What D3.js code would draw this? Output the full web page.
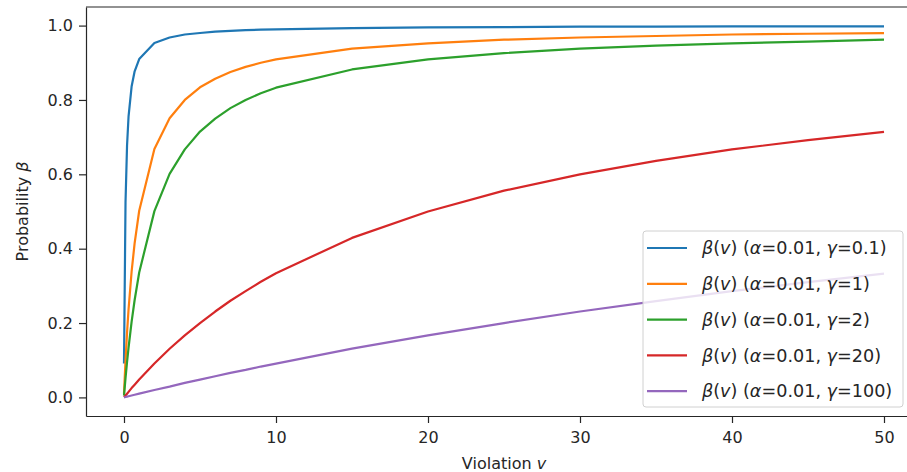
<!DOCTYPE html>
<meta charset="utf-8">
<style type="text/css">

body { margin: 0; background: #fff; }

svg text {
    font-family: "DejaVu Sans", sans-serif;
    font-size: 16px;
    fill: #262626;
}

.line {
    fill: none;
    stroke-width: 2.2;
    stroke-linejoin: round;
}

.axis path, .axis line {
    stroke: #262626;
    stroke-width: 1.2;
}

</style>
<body>
</body>

<script src="https://d3js.org/d3.v7.min.js"></script>
<script>

// violation values v
var violation = [0, 0.1, 0.2, 0.3, 0.5, 0.7, 1, 2, 3, 4, 5, 6, 7, 8, 9, 10, 15, 20, 25, 30, 35, 40, 45, 50];

// beta(v) for each gamma
var gamma01 = [0.091, 0.524, 0.677, 0.756, 0.836, 0.877, 0.910, 0.953, 0.968, 0.976, 0.980, 0.984, 0.986, 0.988, 0.989, 0.990, 0.993, 0.995, 0.996, 0.997, 0.997, 0.998, 0.998, 0.998];
var gamma1 = [0.010, 0.099, 0.174, 0.237, 0.338, 0.415, 0.502, 0.668, 0.751, 0.800, 0.834, 0.857, 0.875, 0.889, 0.900, 0.909, 0.938, 0.952, 0.962, 0.968, 0.972, 0.976, 0.978, 0.980];
var gamma2 = [0.005, 0.052, 0.095, 0.134, 0.203, 0.262, 0.336, 0.501, 0.601, 0.667, 0.715, 0.750, 0.778, 0.800, 0.818, 0.833, 0.882, 0.909, 0.926, 0.938, 0.946, 0.952, 0.957, 0.962];
var gamma20 = [0.0005, 0.005, 0.010, 0.015, 0.025, 0.034, 0.048, 0.091, 0.131, 0.167, 0.200, 0.231, 0.260, 0.286, 0.311, 0.334, 0.429, 0.500, 0.556, 0.600, 0.636, 0.667, 0.692, 0.714];
var gamma100 = [0.0001, 0.001, 0.002, 0.003, 0.005, 0.007, 0.010, 0.020, 0.029, 0.039, 0.048, 0.057, 0.066, 0.074, 0.083, 0.091, 0.131, 0.167, 0.200, 0.231, 0.259, 0.286, 0.310, 0.333];

var gammaLabels = ["0.1", "1", "2", "20", "100"];
var colors = ["#1f77b4", "#ff7f0e", "#2ca02c", "#d62728", "#9467bd"];

var xTicks = [0, 10, 20, 30, 40, 50];
var yTicks = [0.0, 0.2, 0.4, 0.6, 0.8, 1.0];

var series = [gamma01, gamma1, gamma2, gamma20, gamma100];

var W = 907, H = 472;
var mLeft = 86, mRight = 922, mTop = 7, mBottom = 416;

var xScale = d3.scaleLinear()
    .domain([-2.5, 52.5])
    .range([mLeft, mRight]);

var yScale = d3.scaleLinear()
    .domain([-0.05, 1.05])
    .range([mBottom, mTop]);

var line = d3.line()
    .x(function(d, i) { return xScale(violation[i]); })
    .y(function(d) { return yScale(d); });

var svg = d3.select("body").append("svg")
    .attr("width", W)
    .attr("height", H);

svg.append("defs").append("clipPath")
    .attr("id", "clip")
  .append("rect")
    .attr("x", mLeft).attr("y", mTop)
    .attr("width", mRight - mLeft).attr("height", mBottom - mTop);

var lines = svg.append("g").attr("clip-path", "url(#clip)");

lines.selectAll(".line")
    .data(series)
  .enter().append("path")
    .attr("class", "line")
    .attr("stroke", function(d, i) { return colors[i]; })
    .attr("d", line);

// axes
var xAxis = svg.append("g")
    .attr("class", "x axis")
    .attr("transform", "translate(0," + mBottom + ")")
    .call(d3.axisBottom(xScale).tickValues(xTicks).tickSize(7).tickPadding(6).tickSizeOuter(0));

var yAxis = svg.append("g")
    .attr("class", "y axis")
    .attr("transform", "translate(" + mLeft + ",0)")
    .call(d3.axisLeft(yScale).tickValues(yTicks).tickFormat(d3.format(".1f")).tickSize(7).tickPadding(6).tickSizeOuter(0));

svg.selectAll(".axis text").style("font-size", "16px").style("font-family", "DejaVu Sans");
xAxis.selectAll("text").attr("dy", "0.9em");

// top spine (right one falls outside the window)
svg.append("line")
    .attr("x1", mLeft).attr("x2", mRight)
    .attr("y1", mTop).attr("y2", mTop)
    .attr("stroke", "#262626").attr("stroke-width", 1.2);

// axis labels
var xl = svg.append("text")
    .attr("x", xScale(25))
    .attr("y", 469)
    .attr("text-anchor", "middle");
xl.append("tspan").text("Violation ");
xl.append("tspan").attr("font-style", "italic").text("v");

var yl = svg.append("text")
    .attr("transform", "translate(28," + ((mTop + mBottom) / 2) + ") rotate(-90)")
    .attr("text-anchor", "middle");
yl.append("tspan").text("Probability ");
yl.append("tspan").attr("font-style", "italic").text("β");

// legend
var legend = svg.append("g").attr("transform", "translate(643,231)");

legend.append("rect")
    .attr("width", 260)
    .attr("height", 176)
    .attr("rx", 3)
    .attr("fill", "#fff")
    .attr("fill-opacity", 0.8)
    .attr("stroke", "#d0d0d0")
    .attr("stroke-width", 1);

var items = legend.selectAll(".item")
    .data(gammaLabels)
  .enter().append("g")
    .attr("class", "item")
    .attr("transform", function(d, i) { return "translate(0," + (17 + i * 35.8) + ")"; });

items.append("line")
    .attr("x1", 4).attr("x2", 44)
    .attr("stroke", function(d, i) { return colors[i]; })
    .attr("stroke-width", 2.2);

var lt = items.append("text")
    .attr("x", 59)
    .attr("dy", "0.35em")
    .style("font-size", "17.6px");
lt.append("tspan").attr("font-style", "italic").text("β");
lt.append("tspan").text("(");
lt.append("tspan").attr("font-style", "italic").text("v");
lt.append("tspan").text(") (");
lt.append("tspan").attr("font-style", "italic").text("α");
lt.append("tspan").text("=0.01, ");
lt.append("tspan").attr("font-style", "italic").text("γ");
lt.append("tspan").text(function(d) { return "=" + d + ")"; });

</script>
